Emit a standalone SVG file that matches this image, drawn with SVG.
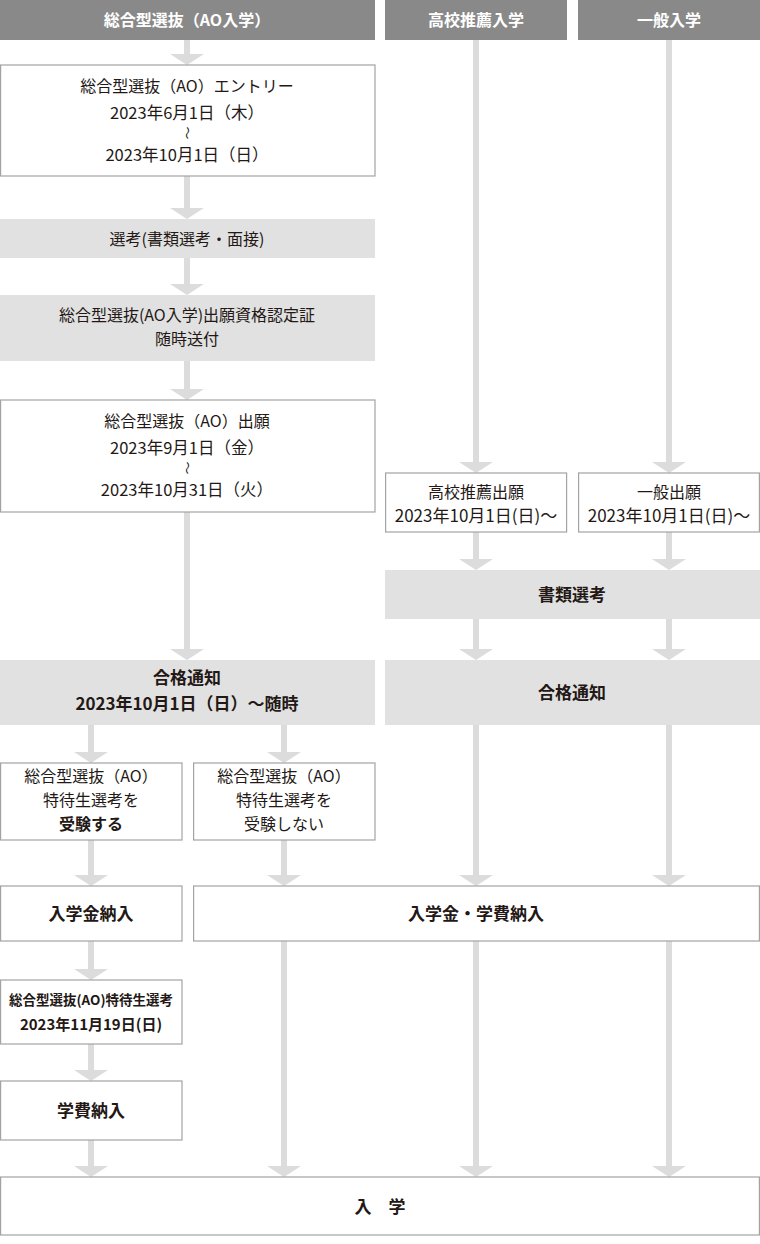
<svg xmlns="http://www.w3.org/2000/svg" width="760" height="1244" viewBox="0 0 760 1244">
<style>
text{font-family:"Noto Sans CJK JP","Noto Sans",sans-serif;text-anchor:middle;fill:#231815;font-size:16px}
.hd{fill:#898989}
.hdt{fill:#fff;font-weight:bold;font-size:16px}
.wb{fill:#fff;stroke:#a3a3a3;stroke-width:1.2}
.gb{fill:#e1e1e1}
.b{font-weight:bold;font-size:17px}
.d{font-size:16.5px}
.s{font-size:16px}
.sb{font-size:16px;font-weight:bold}
.ar{stroke:#dcdcdc;stroke-width:6;fill:none}
.tl{font-size:13px}
</style>
<defs>
<marker id="ah" markerUnits="userSpaceOnUse" markerWidth="34" markerHeight="11" refX="17" refY="0" orient="0" viewBox="0 0 34 11">
<path d="M0,0 L34,0 L17,11 Z" fill="#dcdcdc"/>
</marker>
</defs>
<g id="connectors">
<path class="ar" marker-end="url(#ah)" d="M187,40 V54"/>
<path class="ar" marker-end="url(#ah)" d="M187,176 V208"/>
<path class="ar" marker-end="url(#ah)" d="M187,258 V284"/>
<path class="ar" marker-end="url(#ah)" d="M187,361 V389"/>
<path class="ar" marker-end="url(#ah)" d="M187,512 V649"/>
<path class="ar" marker-end="url(#ah)" d="M476,40 V462"/>
<path class="ar" marker-end="url(#ah)" d="M669,40 V462"/>
<path class="ar" marker-end="url(#ah)" d="M476,532 V559"/>
<path class="ar" marker-end="url(#ah)" d="M669,532 V559"/>
<path class="ar" marker-end="url(#ah)" d="M476,619 V649"/>
<path class="ar" marker-end="url(#ah)" d="M669,619 V649"/>
<path class="ar" marker-end="url(#ah)" d="M91,725 V752"/>
<path class="ar" marker-end="url(#ah)" d="M284,725 V752"/>
<path class="ar" marker-end="url(#ah)" d="M91,840 V875"/>
<path class="ar" marker-end="url(#ah)" d="M284,840 V875"/>
<path class="ar" marker-end="url(#ah)" d="M476,725 V875"/>
<path class="ar" marker-end="url(#ah)" d="M669,725 V875"/>
<path class="ar" marker-end="url(#ah)" d="M91,941 V969"/>
<path class="ar" marker-end="url(#ah)" d="M91,1044 V1070"/>
<path class="ar" marker-end="url(#ah)" d="M91,1140 V1166"/>
<path class="ar" marker-end="url(#ah)" d="M284,941 V1166"/>
<path class="ar" marker-end="url(#ah)" d="M476,941 V1166"/>
<path class="ar" marker-end="url(#ah)" d="M669,941 V1166"/>
</g>
<g id="h-ao"><rect class="hd" x="0" y="0" width="375" height="40"/><text class="hdt" x="187" y="26">総合型選抜（AO入学）</text></g>
<g id="h-suisen"><rect class="hd" x="385" y="0" width="182" height="40"/><text class="hdt" x="476" y="26">高校推薦入学</text></g>
<g id="h-ippan"><rect class="hd" x="578" y="0" width="182" height="40"/><text class="hdt" x="669" y="26">一般入学</text></g>
<g id="entry"><rect class="wb" x="0.6" y="65" width="374.4" height="111"/>
<text x="187" y="92">総合型選抜（AO）エントリー</text>
<text class="d" x="187" y="119">2023年6月1日（木）</text>
<text class="tl" transform="translate(187,133) rotate(90)" y="4">～</text>
<text class="d" x="187" y="161">2023年10月1日（日）</text></g>
<g id="senko"><rect class="gb" x="0" y="219" width="375" height="39"/><text x="187" y="244.5">選考(書類選考・面接)</text></g>
<g id="shikaku"><rect class="gb" x="0" y="295" width="375" height="66"/>
<text x="187" y="321">総合型選抜(AO入学)出願資格認定証</text><text x="187" y="345">随時送付</text></g>
<g id="ao-shutsugan"><rect class="wb" x="0.6" y="400" width="374.4" height="112"/>
<text x="187" y="427">総合型選抜（AO）出願</text>
<text class="d" x="187" y="454">2023年9月1日（金）</text>
<text class="tl" transform="translate(187,468) rotate(90)" y="4">～</text>
<text class="d" x="187" y="496">2023年10月31日（火）</text></g>
<g id="suisen-shutsugan"><rect class="wb" x="385.6" y="473" width="181" height="59"/>
<text x="476" y="498">高校推薦出願</text><text x="476" y="522" style="font-size:17px">2023年10月1日(日)～</text></g>
<g id="ippan-shutsugan"><rect class="wb" x="578.6" y="473" width="180.8" height="59"/>
<text x="669" y="498">一般出願</text><text x="669" y="522" style="font-size:17px">2023年10月1日(日)～</text></g>
<g id="shorui"><rect class="gb" x="385" y="570" width="375" height="49"/><text class="b" x="572" y="601">書類選考</text></g>
<g id="gokaku-ao"><rect class="gb" x="0" y="660" width="375" height="65"/>
<text class="b" x="187" y="684">合格通知</text><text class="b" x="187" y="710">2023年10月1日（日）～随時</text></g>
<g id="gokaku"><rect class="gb" x="385" y="660" width="375" height="65"/><text class="b" x="572" y="699">合格通知</text></g>
<g id="juken"><rect class="wb" x="0.6" y="763" width="181.4" height="77"/>
<text class="s" x="91" y="782">総合型選抜（AO）</text><text class="s" x="91" y="806">特待生選考を</text><text class="sb" x="91" y="830">受験する</text></g>
<g id="jukenshinai"><rect class="wb" x="193.6" y="763" width="181.4" height="77"/>
<text class="s" x="284" y="782">総合型選抜（AO）</text><text class="s" x="284" y="806">特待生選考を</text><text class="s" x="284" y="830">受験しない</text></g>
<g id="nyugakukin"><rect class="wb" x="0.6" y="886" width="181.4" height="55"/><text class="b" x="91" y="919.5">入学金納入</text></g>
<g id="nyugakukin-gakuhi"><rect class="wb" x="193.6" y="886" width="565.8" height="55"/><text class="b" x="476" y="919.5">入学金・学費納入</text></g>
<g id="tokutai"><rect class="wb" x="0.6" y="980" width="181.4" height="64"/>
<text class="b" x="91" y="1005" style="font-size:13.5px">総合型選抜(AO)特待生選考</text><text class="b" x="91" y="1030" style="font-size:15px">2023年11月19日(日)</text></g>
<g id="gakuhi"><rect class="wb" x="0.6" y="1081" width="181.4" height="59"/><text class="b" x="91" y="1116.5">学費納入</text></g>
<g id="nyugaku"><rect class="wb" x="0.6" y="1177" width="758.8" height="58"/><text class="b" x="380" y="1213">入　学</text></g>
</svg>
